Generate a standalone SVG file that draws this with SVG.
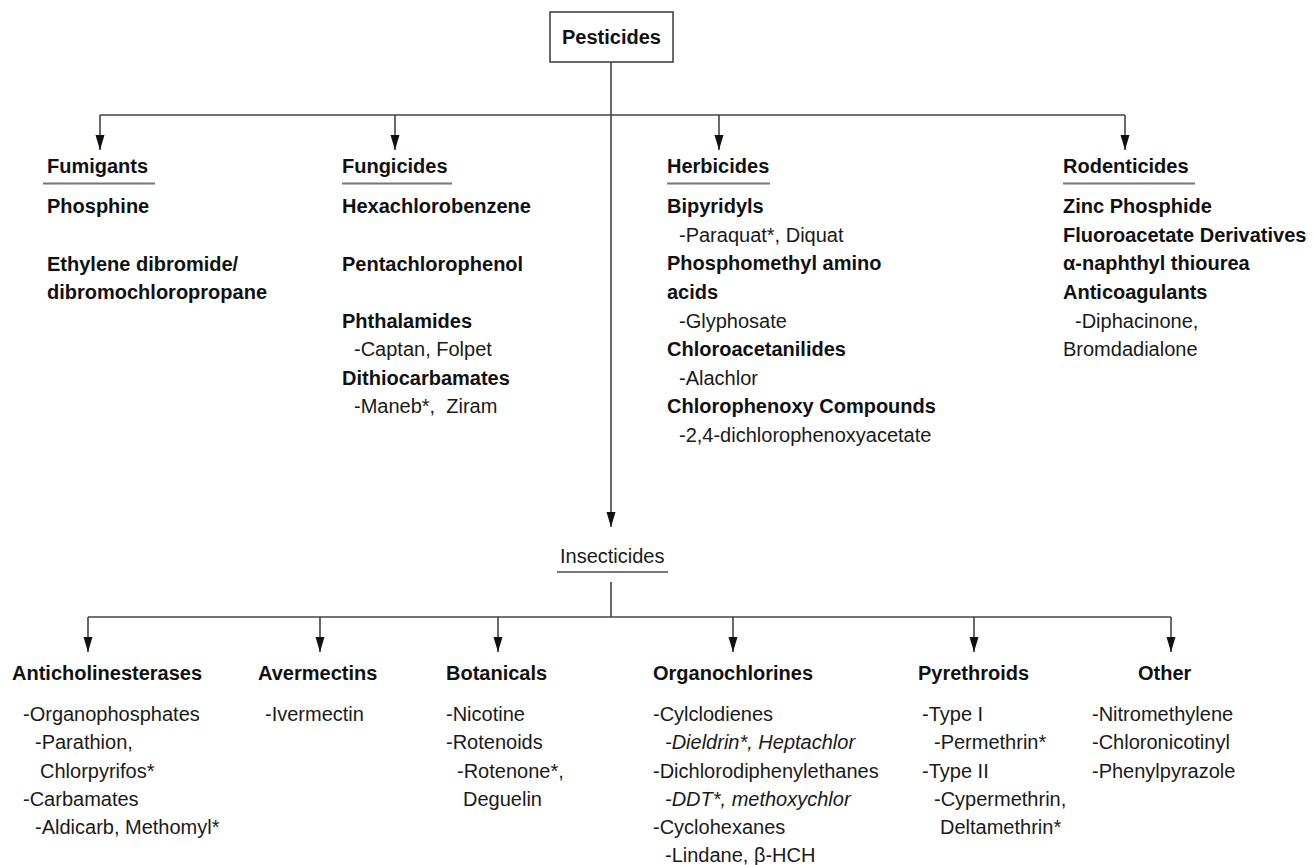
<svg xmlns="http://www.w3.org/2000/svg" width="1314" height="865" viewBox="0 0 1314 865">
<defs>
<marker id="arr" markerUnits="userSpaceOnUse" markerWidth="16" markerHeight="10" refX="15" refY="4.5" orient="auto">
<path d="M0,0 L15,4.5 L0,9 z" fill="#111"/>
</marker>
<style>
text{font-family:"Liberation Sans",Arial,sans-serif;font-size:20px;fill:#1a1a1a}
.b{font-weight:bold;fill:#111}
.i{font-style:italic}
.ln{stroke:#444;stroke-width:1.6;fill:none}
.ul{stroke:#777;stroke-width:2;fill:none}
.ar{marker-end:url(#arr)}
</style>
</defs>
<rect width="1314" height="865" fill="#fff"/>
<g id="connectors">
<path class="ln ar" d="M611,62 V527"/>
<path class="ln" d="M100,115 H1125"/>
<path class="ln ar" d="M100,115 V150"/>
<path class="ln ar" d="M395,115 V150"/>
<path class="ln ar" d="M719,115 V150"/>
<path class="ln ar" d="M1125,115 V150"/>
<path class="ln" d="M611,582 V617"/>
<path class="ln" d="M88,617 H1171"/>
<path class="ln ar" d="M88,617 V652"/>
<path class="ln ar" d="M320,617 V652"/>
<path class="ln ar" d="M498,617 V652"/>
<path class="ln ar" d="M733,617 V652"/>
<path class="ln ar" d="M974,617 V652"/>
<path class="ln ar" d="M1171,617 V652"/>
</g>
<g id="pesticides">
<rect x="550" y="12" width="123" height="50" fill="#fff" stroke="#444" stroke-width="1.6"/>
<text class="b" x="611.5" y="44" text-anchor="middle">Pesticides</text>
</g>
<g id="fumigants">
<text class="b" x="47" y="173">Fumigants</text>
<path class="ul" d="M43,183.5 H155"/>
<text class="b" x="47" y="213">Phosphine</text>
<text class="b" x="47" y="271">Ethylene dibromide/</text>
<text class="b" x="47" y="299">dibromochloropropane</text>
</g>
<g id="fungicides">
<text class="b" x="342" y="173">Fungicides</text>
<path class="ul" d="M342,183.5 H452"/>
<text class="b" x="342" y="213">Hexachlorobenzene</text>
<text class="b" x="342" y="271">Pentachlorophenol</text>
<text class="b" x="342" y="328">Phthalamides</text>
<text x="354" y="356">-Captan, Folpet</text>
<text class="b" x="342" y="385">Dithiocarbamates</text>
<text x="354" y="413" xml:space="preserve">-Maneb*,  Ziram</text>
</g>
<g id="herbicides">
<text class="b" x="667" y="173">Herbicides</text>
<path class="ul" d="M667,183.5 H770"/>
<text class="b" x="667" y="213">Bipyridyls</text>
<text x="679" y="242">-Paraquat*, Diquat</text>
<text class="b" x="667" y="270">Phosphomethyl amino</text>
<text class="b" x="667" y="299">acids</text>
<text x="679" y="328">-Glyphosate</text>
<text class="b" x="667" y="356">Chloroacetanilides</text>
<text x="679" y="385">-Alachlor</text>
<text class="b" x="667" y="413">Chlorophenoxy Compounds</text>
<text x="679" y="442">-2,4-dichlorophenoxyacetate</text>
</g>
<g id="rodenticides">
<text class="b" x="1063" y="173">Rodenticides</text>
<path class="ul" d="M1063,183.5 H1195"/>
<text class="b" x="1063" y="213">Zinc Phosphide</text>
<text class="b" x="1063" y="242">Fluoroacetate Derivatives</text>
<text class="b" x="1063" y="270">α-naphthyl thiourea</text>
<text class="b" x="1063" y="299">Anticoagulants</text>
<text x="1075" y="328">-Diphacinone,</text>
<text x="1063" y="356">Bromdadialone</text>
</g>
<g id="insecticides">
<text x="560" y="563">Insecticides</text>
<path class="ul" d="M557,572 H668"/>
</g>
<g id="anticholinesterases">
<text class="b" x="12" y="680">Anticholinesterases</text>
<text x="23" y="721">-Organophosphates</text>
<text x="35" y="749">-Parathion,</text>
<text x="40" y="778">Chlorpyrifos*</text>
<text x="23" y="806">-Carbamates</text>
<text x="35" y="834">-Aldicarb, Methomyl*</text>
</g>
<g id="avermectins">
<text class="b" x="258" y="680">Avermectins</text>
<text x="265" y="721">-Ivermectin</text>
</g>
<g id="botanicals">
<text class="b" x="446" y="680">Botanicals</text>
<text x="446" y="721">-Nicotine</text>
<text x="446" y="749">-Rotenoids</text>
<text x="457" y="778">-Rotenone*,</text>
<text x="463" y="806">Deguelin</text>
</g>
<g id="organochlorines">
<text class="b" x="653" y="680">Organochlorines</text>
<text x="653" y="721">-Cylclodienes</text>
<text class="i" x="665" y="749">-Dieldrin*, Heptachlor</text>
<text x="653" y="778">-Dichlorodiphenylethanes</text>
<text class="i" x="665" y="806">-DDT*, methoxychlor</text>
<text x="653" y="834">-Cyclohexanes</text>
<text x="665" y="862">-Lindane, β-HCH</text>
</g>
<g id="pyrethroids">
<text class="b" x="918" y="680">Pyrethroids</text>
<text x="922" y="721">-Type I</text>
<text x="934" y="749">-Permethrin*</text>
<text x="922" y="778">-Type II</text>
<text x="934" y="806">-Cypermethrin,</text>
<text x="940" y="834">Deltamethrin*</text>
</g>
<g id="other">
<text class="b" x="1138" y="680">Other</text>
<text x="1092" y="721">-Nitromethylene</text>
<text x="1092" y="749">-Chloronicotinyl</text>
<text x="1092" y="778">-Phenylpyrazole</text>
</g>
</svg>
